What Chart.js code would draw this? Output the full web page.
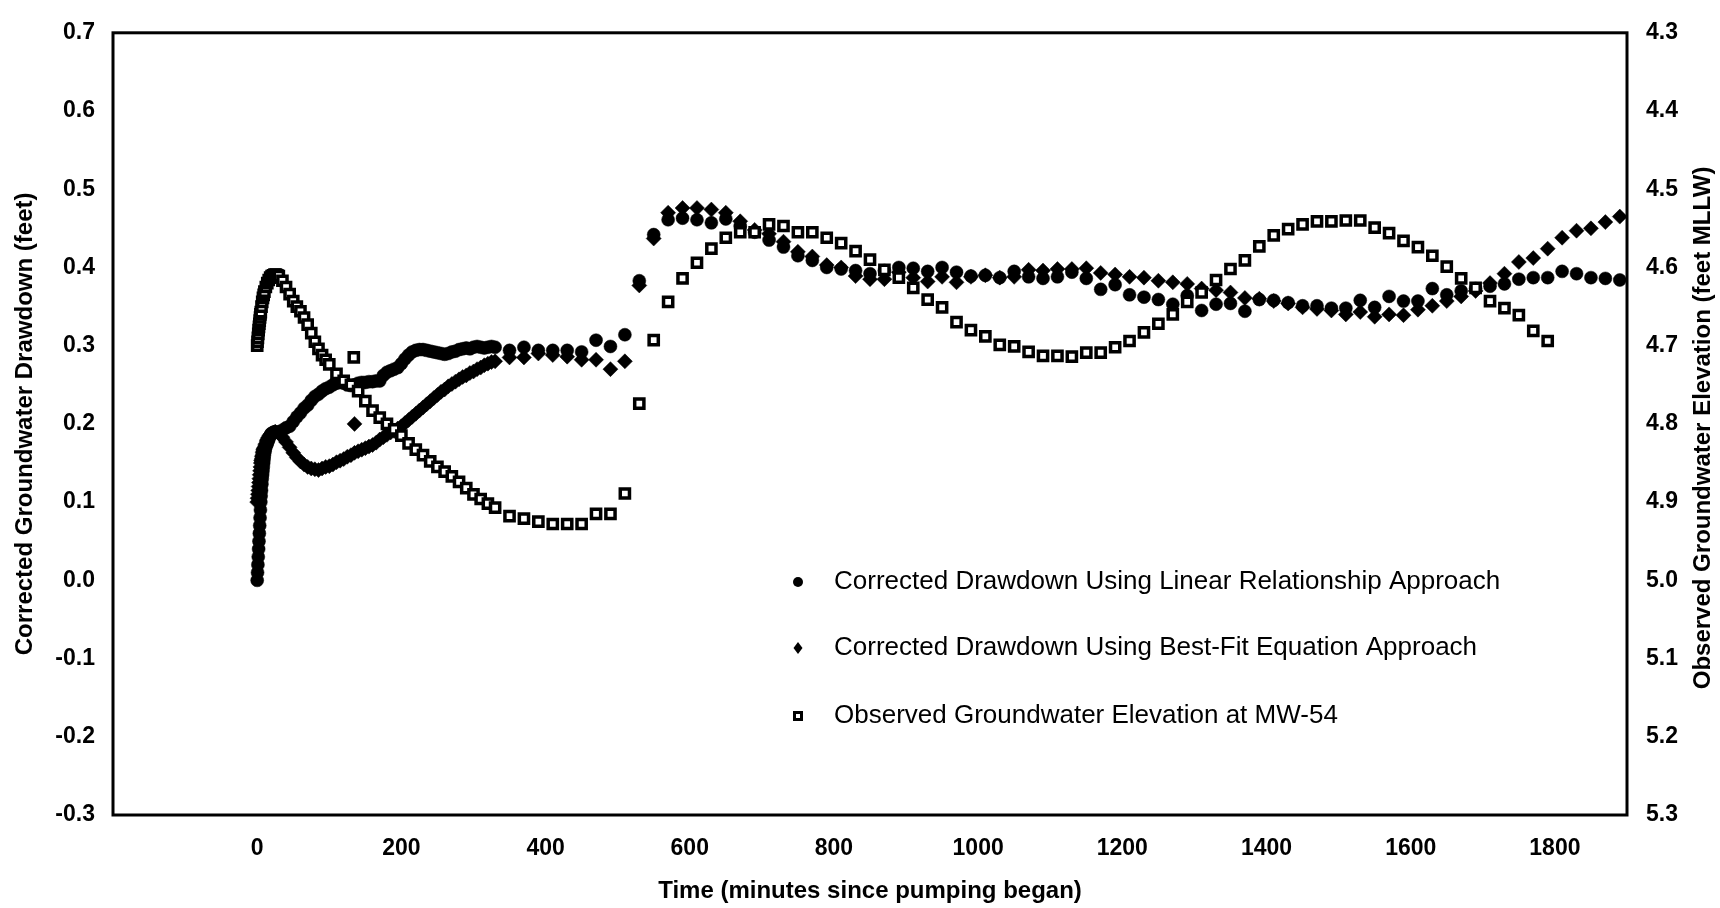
<!DOCTYPE html>
<html>
<head>
<meta charset="UTF-8">
<title>Corrected Drawdown and Observed Groundwater Elevation at MW-54</title>
<script src="https://cdn.jsdelivr.net/npm/chart.js"></script>
<style>
  html, body { margin: 0; padding: 0; background: #fff; }
</style>
</head>
<body>
<canvas id="plot" width="1720" height="908"></canvas>
<script>
// time in minutes since pumping began (dense readings early, then every 20 min)
const drawdownTime = [
  0,0.5,1,1.5,2,2.5,3,3.5,4,4.5,5,5.5,6,6.5,7,7.5,8,8.5,9,9.5,10,
  11,12,13,14,15,16,17,18,19,20,22.5,
  25,30,35,40,45,50,55,60,65,70,
  75,80,85,90,95,100,105,110,115,120,
  125,130,135,140,145,150,155,160,165,170,
  175,180,185,190,195,200,205,210,215,220,
  225,230,235,240,245,250,255,260,265,270,
  275,280,285,290,295,300,305,310,315,320,
  325,330,
  350,370,390,410,430,450,470,490,510,530,
  550,570,590,610,630,650,670,690,710,730,
  750,770,790,810,830,850,870,890,910,930,
  950,970,990,1010,1030,1050,1070,1090,1110,1130,
  1150,1170,1190,1210,1230,1250,1270,1290,1310,1330,
  1350,1370,1390,1410,1430,1450,1470,1490,1510,1530,
  1550,1570,1590,1610,1630,1650,1670,1690,1710,1730,
  1750,1770,1790,1810,1830,1850,1870,1890
];

// corrected drawdown (feet), linear relationship approach
const linearDrawdown = [
  0.000,0.010,0.020,0.030,0.040,0.050,0.060,0.070,0.080,0.090,0.100,0.108,0.115,0.123,0.130,0.135,0.140,0.145,0.150,0.155,0.160,
  0.165,0.170,0.173,0.175,0.178,0.180,0.183,0.185,0.187,0.188,0.189,
  0.190,0.190,0.192,0.195,0.197,0.203,0.209,0.214,0.220,0.224,
  0.230,0.235,0.238,0.242,0.245,0.247,0.250,0.252,0.253,0.252,
  0.250,0.249,0.250,0.252,0.253,0.253,0.254,0.254,0.255,0.255,
  0.262,0.266,0.268,0.270,0.272,0.277,0.283,0.288,0.292,0.294,
  0.295,0.295,0.294,0.293,0.292,0.291,0.290,0.289,0.290,0.292,
  0.293,0.295,0.296,0.297,0.296,0.298,0.299,0.298,0.297,0.298,
  0.299,0.298,
  0.294,0.298,0.294,0.294,0.294,0.292,0.307,0.299,0.314,0.383,
  0.442,0.461,0.463,0.461,0.457,0.462,0.453,0.445,0.435,0.426,
  0.415,0.409,0.400,0.398,0.396,0.392,0.396,0.400,0.399,0.395,
  0.400,0.394,0.389,0.390,0.387,0.395,0.388,0.386,0.388,0.394,
  0.386,0.372,0.378,0.365,0.362,0.359,0.353,0.364,0.345,0.353,
  0.354,0.344,0.359,0.358,0.355,0.351,0.351,0.348,0.348,0.358,
  0.349,0.363,0.357,0.357,0.373,0.365,0.370,0.373,0.376,0.379,
  0.385,0.387,0.387,0.395,0.392,0.387,0.386,0.384
];

// corrected drawdown (feet), best-fit equation approach
const bestFitDrawdown = [
  0.100,0.105,0.110,0.115,0.120,0.125,0.130,0.135,0.140,0.145,0.150,0.153,0.155,0.158,0.160,0.163,0.165,0.167,0.168,0.169,0.170,
  0.173,0.175,0.178,0.180,0.182,0.183,0.185,0.186,0.187,0.188,0.189,
  0.190,0.188,0.183,0.177,0.170,0.163,0.157,0.152,0.148,0.145,
  0.143,0.142,0.141,0.143,0.145,0.146,0.148,0.151,0.153,0.155,
  0.158,0.160,0.163,0.165,0.167,0.169,0.171,0.173,0.176,0.180,
  0.183,0.186,0.189,0.191,0.194,0.197,0.201,0.205,0.209,0.213,
  0.217,0.221,0.225,0.229,0.233,0.237,0.241,0.244,0.248,0.251,
  0.254,0.257,0.260,0.262,0.265,0.267,0.270,0.272,0.275,0.277,
  0.279,0.280,
  0.285,0.285,0.290,0.288,0.286,0.282,0.282,0.270,0.280,0.377,
  0.437,0.470,0.476,0.476,0.474,0.470,0.459,0.448,0.443,0.433,
  0.420,0.414,0.403,0.400,0.389,0.385,0.385,0.394,0.387,0.382,
  0.388,0.381,0.388,0.390,0.387,0.388,0.397,0.396,0.398,0.398,
  0.399,0.393,0.391,0.388,0.387,0.383,0.381,0.379,0.373,0.371,
  0.368,0.361,0.360,0.357,0.354,0.349,0.347,0.345,0.340,0.343,
  0.337,0.340,0.339,0.346,0.351,0.357,0.363,0.370,0.380,0.392,
  0.407,0.412,0.424,0.438,0.447,0.450,0.458,0.465
];

// one stray best-fit reading
const bestFitExtraTime = [135];
const bestFitExtraDrawdown = [0.200];

// observed groundwater elevation at MW-54 (feet MLLW)
const observedTime = [
  0,0.5,1,1.5,2,2.5,3,3.5,4,4.5,5,6,7,8,9,
  10,12,14,16,18,20,22,24,26,28,30,
  35,40,45,50,55,60,65,70,75,80,85,90,95,100,
  110,120,130,134,
  140,150,160,170,180,190,200,210,220,230,
  240,250,260,270,280,290,300,310,320,330,
  350,370,390,410,430,450,470,490,510,530,
  550,570,590,610,630,650,670,690,710,730,
  750,770,790,810,830,850,870,890,910,930,
  950,970,990,1010,1030,1050,1070,1090,1110,1130,
  1150,1170,1190,1210,1230,1250,1270,1290,1310,1330,
  1350,1370,1390,1410,1430,1450,1470,1490,1510,1530,
  1550,1570,1590,1610,1630,1650,1670,1690,1710,1730,
  1750,1770,1790
];
const observedElevation = [
  4.700,4.695,4.690,4.685,4.680,4.676,4.672,4.668,4.664,4.660,4.657,4.650,4.644,4.639,4.635,
  4.631,4.625,4.620,4.616,4.613,4.611,4.610,4.609,4.609,4.610,4.611,
  4.617,4.625,4.634,4.643,4.650,4.656,4.664,4.673,4.684,4.695,4.704,4.712,4.718,4.724,
  4.736,4.745,4.750,4.715,
  4.758,4.771,4.783,4.792,4.800,4.807,4.815,4.825,4.833,4.840,
  4.848,4.855,4.861,4.867,4.874,4.882,4.890,4.896,4.902,4.907,
  4.918,4.921,4.925,4.928,4.928,4.928,4.915,4.915,4.889,4.774,
  4.693,4.644,4.614,4.594,4.576,4.562,4.555,4.555,4.545,4.547,
  4.555,4.555,4.562,4.569,4.579,4.590,4.603,4.613,4.626,4.641,
  4.651,4.670,4.680,4.688,4.699,4.701,4.708,4.713,4.713,4.714,
  4.709,4.709,4.702,4.694,4.683,4.672,4.660,4.644,4.632,4.616,
  4.602,4.591,4.573,4.559,4.551,4.545,4.541,4.541,4.540,4.540,
  4.549,4.556,4.566,4.574,4.585,4.599,4.614,4.626,4.643,4.652,
  4.661,4.681,4.694
];

const seriesNames = [
  'Corrected Drawdown Using Linear Relationship Approach',
  'Corrected Drawdown Using Best-Fit Equation Approach',
  'Observed Groundwater Elevation at MW-54'
];

const FONT = "'Liberation Sans', Arial, Helvetica, sans-serif";

function pairs(xs, ys) {
  return xs.map((x, i) => ({ x: x, y: ys[i] }));
}

function fmt1(v) {
  return Math.abs(v) < 1e-9 ? '0.0' : v.toFixed(1);
}

// outline box round the plot area
const frameBox = {
  id: 'frameBox',
  afterDatasetsDraw(chart) {
    const a = chart.chartArea, ctx = chart.ctx;
    ctx.save();
    ctx.strokeStyle = '#000';
    ctx.lineWidth = 3;
    ctx.strokeRect(a.left, a.top, a.right - a.left, a.bottom - a.top);
    ctx.restore();
  }
};

// right axis title reads bottom-to-top like the left one
const rightTitle = {
  id: 'rightTitle',
  afterDraw(chart) {
    const ctx = chart.ctx, a = chart.chartArea;
    ctx.save();
    ctx.translate(1703, (a.top + a.bottom) / 2 + 4);
    ctx.rotate(-Math.PI / 2);
    ctx.font = 'bold 24px ' + FONT;
    ctx.fillStyle = '#000';
    ctx.textAlign = 'center';
    ctx.textBaseline = 'middle';
    ctx.fillText('Observed Groundwater Elevation (feet MLLW)', 0, 0);
    ctx.restore();
  }
};

// legend sits inside the plot, lower middle
const insideLegend = {
  id: 'insideLegend',
  afterDraw(chart) {
    const ctx = chart.ctx;
    const rows = [582, 648, 716];
    const mx = 798, tx = 834;
    ctx.save();
    ctx.font = '26px ' + FONT;
    ctx.textBaseline = 'middle';
    ctx.fillStyle = '#000';
    rows.forEach((y, i) => {
      ctx.beginPath();
      if (i === 0) {
        ctx.arc(mx, y, 5, 0, Math.PI * 2);
        ctx.fill();
      } else if (i === 1) {
        ctx.moveTo(mx, y - 6); ctx.lineTo(mx + 4.5, y); ctx.lineTo(mx, y + 6); ctx.lineTo(mx - 4.5, y);
        ctx.closePath();
        ctx.fill();
      } else {
        ctx.fillStyle = '#fff';
        ctx.strokeStyle = '#000';
        ctx.lineWidth = 3;
        ctx.rect(mx - 3.5, y - 3.5, 7, 7);
        ctx.fill();
        ctx.stroke();
        ctx.fillStyle = '#000';
      }
      ctx.fillText(seriesNames[i], tx, y);
    });
    ctx.restore();
  }
};

const tickFont = { family: FONT, size: 23, weight: 'bold' };

new Chart(document.getElementById('plot'), {
  type: 'scatter',
  data: {
    datasets: [
      {
        label: seriesNames[2],
        data: pairs(observedTime, observedElevation),
        yAxisID: 'y2',
        order: 0,
        pointStyle: 'rect',
        pointRadius: 6.5,
        pointBackgroundColor: '#fff',
        pointBorderColor: '#000',
        pointBorderWidth: 3.5
      },
      {
        label: seriesNames[0],
        data: pairs(drawdownTime, linearDrawdown),
        yAxisID: 'y',
        order: 1,
        pointStyle: 'circle',
        pointRadius: 6.5,
        pointBackgroundColor: '#000',
        pointBorderColor: '#000',
        pointBorderWidth: 0.5
      },
      {
        label: seriesNames[1],
        data: pairs(drawdownTime, bestFitDrawdown).concat(pairs(bestFitExtraTime, bestFitExtraDrawdown)),
        yAxisID: 'y',
        order: 2,
        pointStyle: 'rectRot',
        pointRadius: 7.5,
        pointBackgroundColor: '#000',
        pointBorderColor: '#000',
        pointBorderWidth: 0.5
      }
    ]
  },
  options: {
    responsive: false,
    animation: false,
    events: [],
    layout: { padding: { top: 28, left: 0, right: 0, bottom: 0 } },
    plugins: {
      legend: { display: false },
      tooltip: { enabled: false }
    },
    scales: {
      x: {
        type: 'linear',
        min: -200,
        max: 1900,
        afterFit(scale) { scale.height = 93; },
        grid: { display: false, drawTicks: false },
        border: { display: false },
        ticks: {
          stepSize: 200,
          includeBounds: false,
          autoSkip: false,
          maxRotation: 0,
          padding: 20,
          color: '#000',
          font: tickFont,
          // the axis runs -200..1900 but only 0..1800 are labelled
          callback: v => {
            const r = Math.round(v);
            return r < 0 || r > 1800 ? '' : String(r);
          }
        },
        title: {
          display: true,
          text: 'Time (minutes since pumping began)',
          color: '#000',
          font: { family: FONT, size: 24, weight: 'bold' },
          padding: { top: 0, bottom: 2 }
        }
      },
      y: {
        type: 'linear',
        position: 'left',
        min: -0.3,
        max: 0.7,
        afterFit(scale) { scale.width = 113; },
        grid: { display: false, drawTicks: false },
        border: { display: false },
        ticks: {
          stepSize: 0.1,
          padding: 18,
          color: '#000',
          font: tickFont,
          callback: v => fmt1(v)
        },
        title: {
          display: true,
          text: 'Corrected Groundwater Drawdown (feet)',
          color: '#000',
          font: { family: FONT, size: 24, weight: 'bold' },
          padding: { top: 11, bottom: 0 }
        }
      },
      y2: {
        type: 'linear',
        position: 'right',
        min: 4.3,
        max: 5.3,
        reverse: true,
        afterFit(scale) { scale.width = 93; },
        grid: { display: false, drawTicks: false },
        border: { display: false },
        ticks: {
          stepSize: 0.1,
          padding: 19,
          color: '#000',
          font: tickFont,
          callback: v => fmt1(v)
        },
        title: { display: false }
      }
    }
  },
  plugins: [frameBox, rightTitle, insideLegend]
});
</script>
</body>
</html>
